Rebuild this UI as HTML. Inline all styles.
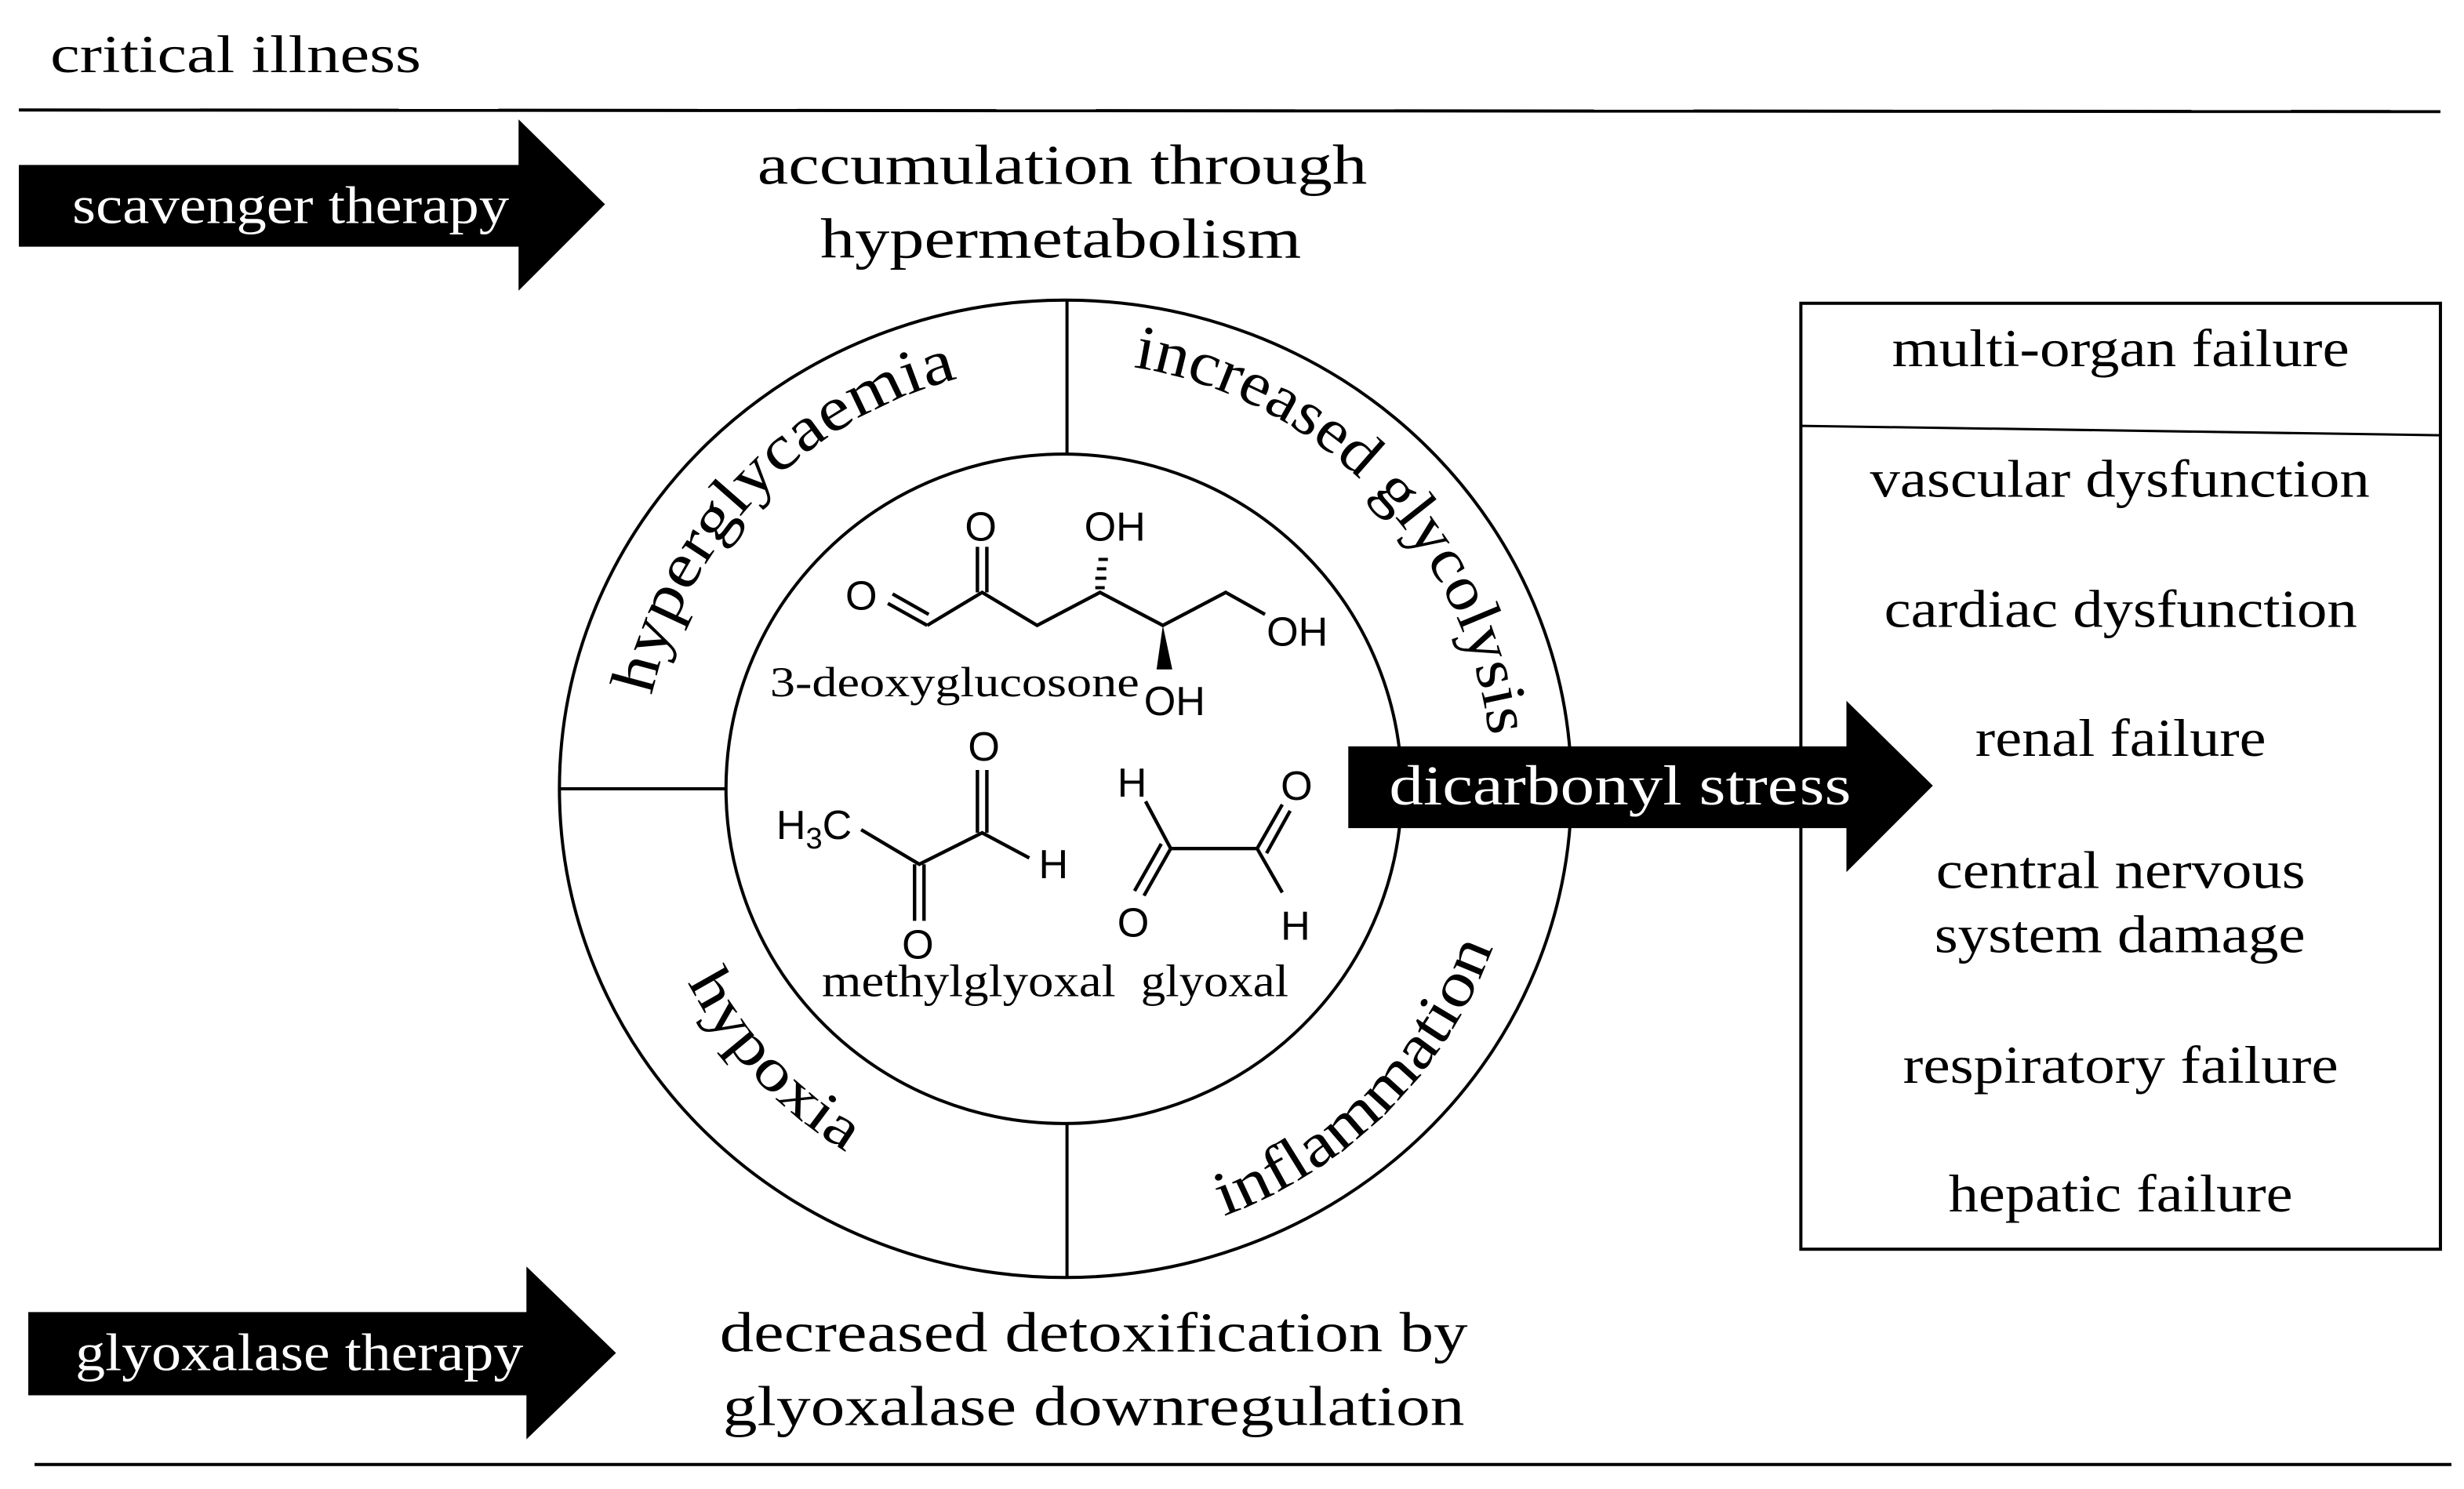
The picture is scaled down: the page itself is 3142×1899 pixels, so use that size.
<!DOCTYPE html>
<html><head><meta charset="utf-8"><style>
html,body{margin:0;padding:0;background:#fff}
svg{display:block}
.s{font-family:"Liberation Serif",serif;fill:#000}
.w{font-family:"Liberation Serif",serif;fill:#fff}
.c{font-family:"Liberation Sans",sans-serif;fill:#000;font-size:26px}
</style></head><body>
<svg width="3142" height="1899" viewBox="0 0 1568 947.6" preserveAspectRatio="none" xmlns="http://www.w3.org/2000/svg">
<rect width="1568" height="948" fill="#fff"/>
<text class="s" x="32" y="46" font-size="34" textLength="236" lengthAdjust="spacingAndGlyphs">critical illness</text>
<line x1="12" y1="70" x2="1553" y2="71" stroke="#000" stroke-width="2"/>
<line x1="22" y1="932" x2="1560" y2="932" stroke="#000" stroke-width="2"/>

<polygon points="12,105 330,105 330,76 385,130 330,185 330,157 12,157" fill="#000"/>
<text class="w" x="46" y="142" font-size="34" textLength="278" lengthAdjust="spacingAndGlyphs">scavenger therapy</text>
<polygon points="18,835 335,835 335,806 392,861 335,916 335,888 18,888" fill="#000"/>
<text class="w" x="48" y="872" font-size="34" textLength="285" lengthAdjust="spacingAndGlyphs">glyoxalase therapy</text>

<text class="s" x="482" y="117" font-size="36" textLength="388" lengthAdjust="spacingAndGlyphs">accumulation through</text>
<text class="s" x="522" y="164" font-size="36" textLength="306" lengthAdjust="spacingAndGlyphs">hypermetabolism</text>
<text class="s" x="458" y="860" font-size="36" textLength="476" lengthAdjust="spacingAndGlyphs">decreased detoxification by</text>
<text class="s" x="460" y="907" font-size="36" textLength="472" lengthAdjust="spacingAndGlyphs">glyoxalase downregulation</text>

<ellipse cx="678" cy="502" rx="322" ry="311" fill="none" stroke="#000" stroke-width="2"/>
<ellipse cx="677" cy="502" rx="215" ry="213" fill="none" stroke="#000" stroke-width="2"/>
<line x1="679" y1="191" x2="679" y2="289" stroke="#000" stroke-width="2"/>
<line x1="679" y1="715" x2="679" y2="813" stroke="#000" stroke-width="2"/>
<line x1="356" y1="502" x2="462" y2="502" stroke="#000" stroke-width="2"/>

<defs>
<path id="a1" d="M459.6,660.7 A270,270 0 0 1 829,278.2"/>
<path id="a2" d="M526,276.5 A272,272 0 0 1 898,661.9"/>
<path id="a3" d="M511.6,739.5 A290,290 0 0 0 915.5,335.5"/>
<path id="a4" d="M462.3,339.5 A270,270 0 0 0 825,728.4"/>
</defs>
<text class="s" font-size="40"><textPath href="#a1" startOffset="50%" text-anchor="middle" textLength="295" lengthAdjust="spacingAndGlyphs">hyperglycaemia</textPath></text>
<text class="s" font-size="40"><textPath href="#a2" startOffset="50%" text-anchor="middle" textLength="350" lengthAdjust="spacingAndGlyphs">increased glycolysis</textPath></text>
<text class="s" font-size="40"><textPath href="#a3" startOffset="50%" text-anchor="middle" textLength="250" lengthAdjust="spacingAndGlyphs">inflammation</textPath></text>
<text class="s" font-size="38"><textPath href="#a4" startOffset="50%" text-anchor="middle" textLength="150" lengthAdjust="spacingAndGlyphs">hypoxia</textPath></text>

<g stroke="#000" stroke-width="2.2" fill="none">
<line x1="565" y1="384" x2="590" y2="398"/><line x1="568" y1="378" x2="591" y2="391"/>
<polyline points="590,398 625,377 660,398 700,377 740,398 780,377 805,391"/>
<line x1="622" y1="377" x2="622" y2="348"/><line x1="628" y1="377" x2="628" y2="348"/>
</g>
<g stroke="#000" stroke-width="2">
<line x1="697" y1="374" x2="703" y2="374"/><line x1="697" y1="368" x2="704" y2="368"/><line x1="698" y1="362" x2="704" y2="362"/><line x1="699" y1="356" x2="705" y2="356"/>
</g>
<polygon points="740,398 736,426 746,426" fill="#000"/>
<text class="c" x="538" y="388" font-size="28">O</text>
<text class="c" x="614" y="344" font-size="28">O</text>
<text class="c" x="690" y="344" font-size="28">OH</text>
<text class="c" x="806" y="411" font-size="28">OH</text>
<text class="c" x="728" y="455" font-size="28">OH</text>
<text class="s" x="490" y="443" font-size="27" textLength="235" lengthAdjust="spacingAndGlyphs">3-deoxyglucosone</text>

<g stroke="#000" stroke-width="2.2" fill="none">
<polyline points="548,528 585,550 625,530 655,546"/>
<line x1="582" y1="550" x2="582" y2="586"/><line x1="588" y1="550" x2="588" y2="586"/>
<line x1="622" y1="530" x2="622" y2="490"/><line x1="628" y1="530" x2="628" y2="490"/>
</g>
<text class="c" x="494" y="534" font-size="28">H<tspan font-size="19" dy="6">3</tspan><tspan dy="-6">C</tspan></text>
<text class="c" x="661" y="559" font-size="28">H</text>
<text class="c" x="574" y="610" font-size="28">O</text>
<text class="c" x="616" y="484" font-size="28">O</text>
<g stroke="#000" stroke-width="2.2" fill="none">
<polyline points="729,510 745,540 800,540 816,512"/>
<line x1="806" y1="543" x2="821" y2="516"/>
<line x1="745" y1="540" x2="728" y2="570"/><line x1="739" y1="537" x2="722" y2="567"/>
<line x1="800" y1="540" x2="816" y2="568"/>
</g>
<text class="c" x="711" y="507" font-size="28">H</text>
<text class="c" x="815" y="509" font-size="28">O</text>
<text class="c" x="711" y="596" font-size="28">O</text>
<text class="c" x="815" y="598" font-size="28">H</text>
<text class="s" x="523" y="634" font-size="29" textLength="187" lengthAdjust="spacingAndGlyphs">methylglyoxal</text>
<text class="s" x="726" y="634" font-size="29" textLength="94" lengthAdjust="spacingAndGlyphs">glyoxal</text>

<polygon points="858,475 1175,475 1175,446 1230,500 1175,555 1175,527 858,527" fill="#000"/>
<text class="w" x="884" y="512" font-size="36" textLength="294" lengthAdjust="spacingAndGlyphs">dicarbonyl stress</text>

<rect x="1146" y="193" width="407" height="602" fill="none" stroke="#000" stroke-width="2"/>
<line x1="1146" y1="271" x2="1553" y2="277" stroke="#000" stroke-width="1.5"/>
<g class="s" font-size="34">
<text x="1204" y="233" textLength="291" lengthAdjust="spacingAndGlyphs">multi-organ failure</text>
<text x="1190" y="316" textLength="318" lengthAdjust="spacingAndGlyphs">vascular dysfunction</text>
<text x="1199" y="399" textLength="301" lengthAdjust="spacingAndGlyphs">cardiac dysfunction</text>
<text x="1257" y="481" textLength="185" lengthAdjust="spacingAndGlyphs">renal failure</text>
<text x="1232" y="565" textLength="235" lengthAdjust="spacingAndGlyphs">central nervous</text>
<text x="1231" y="606" textLength="236" lengthAdjust="spacingAndGlyphs">system damage</text>
<text x="1211" y="689" textLength="277" lengthAdjust="spacingAndGlyphs">respiratory failure</text>
<text x="1240" y="771" textLength="219" lengthAdjust="spacingAndGlyphs">hepatic failure</text>
</g>
</svg>
</body></html>
